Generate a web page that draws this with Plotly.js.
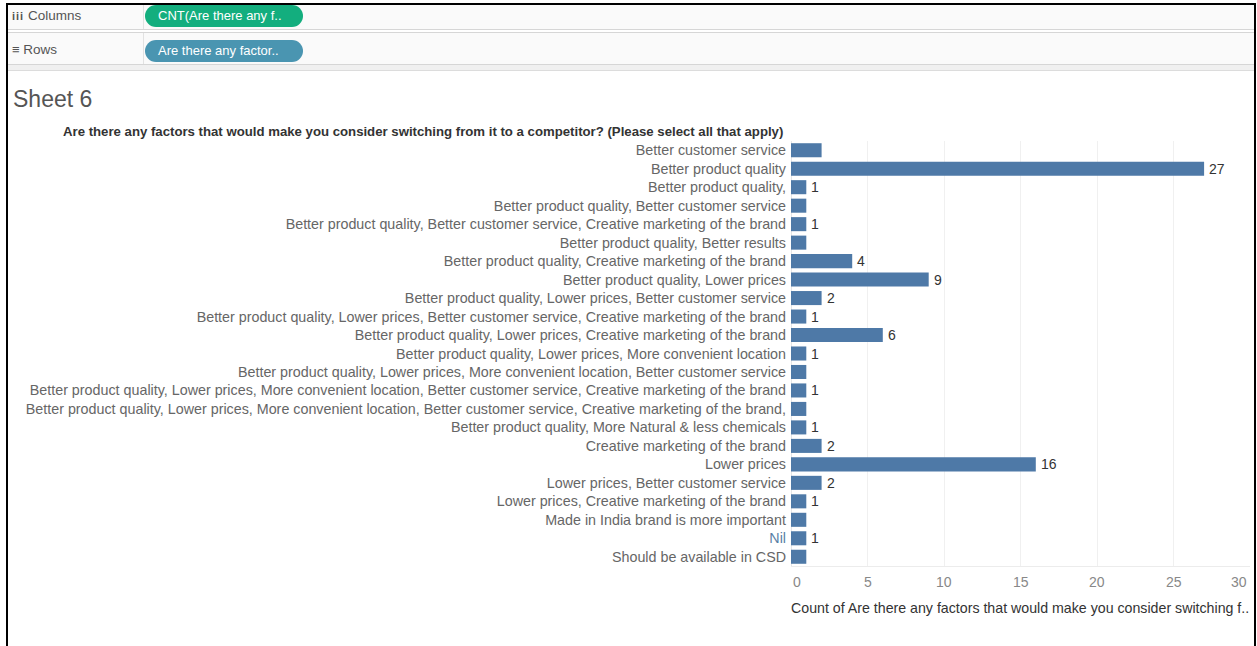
<!DOCTYPE html>
<html>
<head>
<meta charset="utf-8">
<script src="https://cdn.plot.ly/plotly-3.0.1.min.js"></script>
<style>
  html, body { margin:0; padding:0; background:#fff; }
  #wrap { position:relative; width:1257px; height:646px; overflow:hidden; font-family:"Liberation Sans", Arial, sans-serif; }
  #chart { position:absolute; left:0; top:0; width:1257px; height:646px; }
  .shelf { position:absolute; left:8px; width:1246px; background:#fafafa; }
  .sep { position:absolute; left:8px; width:1246px; height:1px; background:#d6d6d6; }
  .lbl { position:absolute; left:12px; font-size:13.5px; color:#555; }
  .vsep { position:absolute; left:143px; width:1px; background:#e2e2e2; }
  .pill { position:absolute; left:145px; width:158px; height:22px; border-radius:11px; color:#fff; font-size:13px; line-height:22px; padding-left:13px; box-sizing:border-box; }
  .frame { position:absolute; background:#000; }
  #sheet { position:absolute; left:13px; top:86px; font-size:23px; color:#555; font-family:"Liberation Sans", Arial, sans-serif; }
</style>
</head>
<body>
<div id="wrap">
  <div id="chart"></div>
  <div class="shelf" style="top:5px;height:24px;"></div>
  <div class="sep" style="top:29px;"></div>
  <div class="shelf" style="top:33px;height:31px;"></div>
  <div class="sep" style="top:32px;"></div>
  <div class="sep" style="top:64px;"></div>
  <div class="shelf" style="top:65px;height:5px;background:#f0f0f0;"></div>
  <div class="sep" style="top:70px;background:#dcdcdc;"></div>
  <div class="vsep" style="top:5px;height:24px;"></div>
  <div class="vsep" style="top:33px;height:31px;"></div>
  <div class="lbl" style="top:8px;"><span style="font-size:11px;font-weight:bold;color:#555;letter-spacing:1px;">iii</span>&nbsp;Columns</div>
  <div class="lbl" style="top:42px;"><span style="font-size:13px;color:#555;">&#8801;</span>&nbsp;Rows</div>
  <div class="pill" style="top:5px;background:#13ae7e;">CNT(Are there any f..</div>
  <div class="pill" style="top:40px;background:#4a95b1;">Are there any factor..</div>
  <div id="sheet">Sheet 6</div>
  <div class="frame" style="left:6px;top:3px;width:1250px;height:2px;"></div>
  <div class="frame" style="left:6px;top:3px;width:2px;height:643px;"></div>
  <div class="frame" style="left:1254px;top:3px;width:2px;height:643px;"></div>
</div>
<script>
const categories = [
  "Better customer service",
  "Better product quality",
  "Better product quality,",
  "Better product quality, Better customer service",
  "Better product quality, Better customer service, Creative marketing of the brand",
  "Better product quality, Better results",
  "Better product quality, Creative marketing of the brand",
  "Better product quality, Lower prices",
  "Better product quality, Lower prices, Better customer service",
  "Better product quality, Lower prices, Better customer service, Creative marketing of the brand",
  "Better product quality, Lower prices, Creative marketing of the brand",
  "Better product quality, Lower prices, More convenient location",
  "Better product quality, Lower prices, More convenient location, Better customer service",
  "Better product quality, Lower prices, More convenient location, Better customer service, Creative marketing of the brand",
  "Better product quality, Lower prices, More convenient location, Better customer service, Creative marketing of the brand,",
  "Better product quality, More Natural & less chemicals",
  "Creative marketing of the brand",
  "Lower prices",
  "Lower prices, Better customer service",
  "Lower prices, Creative marketing of the brand",
  "Made in India brand is more important",
  "Nil",
  "Should be available in CSD"
];
const counts = [2, 27, 1, 1, 1, 1, 4, 9, 2, 1, 6, 1, 1, 1, 1, 1, 2, 16, 2, 1, 1, 1, 1];
// labels as displayed in the picture (some bars carry no label)
const shownLabels = ["", "27", "1", "", "1", "", "4", "9", "2", "1", "6", "1", "", "1", "", "1", "2", "16", "2", "1", "", "1", ""];
const xTicks = [0, 5, 10, 15, 20, 25, 30];
const headerText = "Are there any factors that would make you consider switching from it to a competitor? (Please select all that apply)";
const axisTitle = "Count of Are there any factors that would make you consider switching f..";
const highlighted = "Nil";

const FONT = '"Liberation Sans", Arial, sans-serif';
const L = 791, R = 7, T = 141, B = 80, W = 1257, H = 646;
const pw = W - L - R, ph = H - T - B;
const px2x = p => (p - L) / pw;
const py2y = p => (H - B - p) / ph;

const ticktext = categories.map(c => c === highlighted ? '<span style="color:#5b7fa6">' + c + '</span>' : c);

const annotations = xTicks.map((v, i) => ({
  x: v, xref: 'x', y: py2y(582), yref: 'paper',
  text: String(v), showarrow: false,
  xanchor: i === 0 ? 'left' : (i === xTicks.length - 1 ? 'right' : 'center'),
  yanchor: 'middle', xshift: i === 0 ? 0 : (i === xTicks.length - 1 ? -1 : 0),
  font: {family: FONT, size: 14, color: '#888'}
}));
annotations.push({
  x: 0, xref: 'paper', y: py2y(608), yref: 'paper', text: axisTitle, showarrow: false,
  xanchor: 'left', yanchor: 'middle', xshift: -2,
  font: {family: FONT, size: 14.2, color: '#333'}
});
annotations.push({
  x: px2x(785), xref: 'paper', y: py2y(131), yref: 'paper', text: '<b>' + headerText + '</b>', showarrow: false,
  xanchor: 'right', yanchor: 'middle',
  font: {family: FONT, size: 13.2, color: '#333'}
});
categories.forEach((c, i) => {
  if (shownLabels[i] !== "") {
    annotations.push({
      x: counts[i], xref: 'x', y: c, yref: 'y', text: shownLabels[i], showarrow: false,
      xanchor: 'left', yanchor: 'middle', xshift: 3,
      font: {family: FONT, size: 14, color: '#333'}
    });
  }
});

Plotly.newPlot('chart', [{
  type: 'bar', orientation: 'h',
  x: counts, y: categories,
  width: 0.76,
  marker: {color: '#4e79a7', line: {width: 0}},
  hoverinfo: 'x+y'
}], {
  width: W, height: H,
  margin: {l: L, r: R, t: T, b: B, pad: 0},
  paper_bgcolor: 'rgba(0,0,0,0)', plot_bgcolor: 'rgba(0,0,0,0)',
  showlegend: false,
  xaxis: {
    range: [0, 30], tickvals: xTicks, showticklabels: false, ticks: '',
    showgrid: true, gridcolor: '#f0f0f0', gridwidth: 1,
    zeroline: true, zerolinecolor: '#e6e6e6', zerolinewidth: 1,
    showline: true, linecolor: '#ececec', linewidth: 1, fixedrange: true
  },
  yaxis: {
    type: 'category', autorange: 'reversed',
    tickmode: 'array', tickvals: categories, ticktext: ticktext,
    ticks: '', ticklabelstandoff: 4, showgrid: false, zeroline: false, showline: false,
    tickfont: {family: FONT, size: 14.3, color: '#666'},
    fixedrange: true
  },
  annotations: annotations,
  font: {family: FONT}
}, {displayModeBar: false});
</script>
</body>
</html>
